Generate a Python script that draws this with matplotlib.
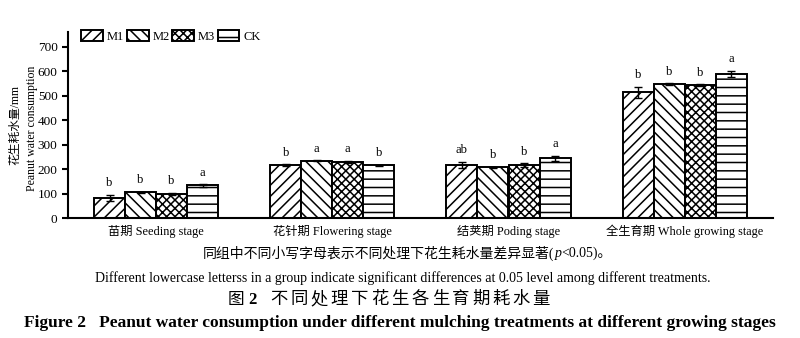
import numpy as np
import matplotlib.pyplot as plt

plt.rcParams['font.family'] = ['Liberation Serif', 'Noto Sans CJK SC']
plt.rcParams['hatch.linewidth'] = 1.1

# 数据
stages = ['苗期 Seeding stage', '花针期 Flowering stage', '结荚期 Poding stage', '全生育期 Whole growing stage']
treatments = ['M1', 'M2', 'M3', 'CK']
m1 = [82, 216, 217, 514]
m2 = [106, 234, 208, 547]
m3 = [99, 230, 215, 544]
ck = [133, 215, 245, 589]
m1_err = [13, 3, 12, 22]
m2_err = [2, 2, 2, 3]
m3_err = [4, 4, 8, 3]
ck_err = [5, 2, 10, 12]
m1_sig = ['b', 'b', 'ab', 'b']
m2_sig = ['b', 'a', 'b', 'b']
m3_sig = ['b', 'a', 'b', 'b']
ck_sig = ['a', 'b', 'a', 'a']

values = [m1, m2, m3, ck]
errs = [m1_err, m2_err, m3_err, ck_err]
sigs = [m1_sig, m2_sig, m3_sig, ck_sig]
hatches = ['///', '\\\\\\', 'xxxx', '--']

fig = plt.figure(figsize=(8, 3.38), dpi=100)
ax = fig.add_axes([0.085, 0.355, 0.881, 0.55])

x = np.arange(len(stages))
w = 0.176
for i in range(4):
    pos = x + (i - 1.5) * w
    ax.bar(pos, values[i], w, color='white', edgecolor='black', linewidth=1.4,
           hatch=hatches[i], label=treatments[i])
    ax.errorbar(pos, values[i], yerr=errs[i], fmt='none', ecolor='black',
                elinewidth=1, capsize=3, capthick=1)
    for p, v, e, s in zip(pos, values[i], errs[i], sigs[i]):
        ax.annotate(s, (p, v + e), xytext=(0, 4), textcoords='offset points',
                    ha='center', va='bottom', fontsize=9)

ax.set_xlim(-0.5, 3.5)
ax.set_ylim(0, 760)
ax.set_yticks(range(0, 701, 100))
ax.set_xticks(x)
ax.set_xticklabels(stages, fontsize=8.8)
ax.tick_params(axis='x', length=0, pad=5)
ax.tick_params(axis='y', direction='out', length=4, width=1.5, labelsize=9.5)
ax.spines['top'].set_visible(False)
ax.spines['right'].set_visible(False)
ax.spines['left'].set_linewidth(1.5)
ax.spines['bottom'].set_linewidth(1.5)

fig.text(0.019, 0.63, '花生耗水量/mm', rotation=90, ha='center', va='center', fontsize=8.5)
fig.text(0.040, 0.62, 'Peanut water consumption', rotation=90, ha='center', va='center', fontsize=8.5)

ax.legend(loc='upper left', bbox_to_anchor=(0.012, 1.04), ncol=4, frameon=False,
          fontsize=9, handlelength=1.75, handleheight=1.0, handletextpad=0.3,
          columnspacing=0.2, borderaxespad=0)

renderer = fig.canvas.get_renderer()


def text_row(x0, y, parts, size):
    # parts: (字符串, 粗细, 样式)
    xp = x0
    for s, weight, style in parts:
        t = fig.text(xp, y, s, ha='left', va='center', fontsize=size,
                     fontweight=weight, fontstyle=style)
        bb = t.get_window_extent(renderer)
        xp = xp + bb.width / fig.bbox.width


text_row(203 / 800, 1 - 253 / 338,
         [('同组中不同小写字母表示不同处理下花生耗水量差异显著(', 'normal', 'normal'),
          ('p', 'normal', 'italic'),
          ('<0.05)。', 'normal', 'normal')], 10)
fig.text(0.503, 1 - 278 / 338, 'Different lowercase letterss in a group indicate significant differences at 0.05 level among different treatments.',
         ha='center', va='center', fontsize=10)
text_row(228 / 800, 1 - 300 / 338, [('图 ', 'normal', 'normal'), ('2', 'bold', 'normal')], 12)
# 标题字间距较宽，逐字放置
title_cn = '不同处理下花生各生育期耗水量'
for k, ch in enumerate(title_cn):
    fig.text((270 + k * 20.2) / 800, 1 - 300 / 338, ch, ha='left', va='center', fontsize=12.5)
fig.text(0.5, 1 - 323 / 338, 'Figure 2   Peanut water consumption under different mulching treatments at different growing stages',
         ha='center', va='center', fontsize=12.5, fontweight='bold')

fig.savefig('out.png', dpi=100)
